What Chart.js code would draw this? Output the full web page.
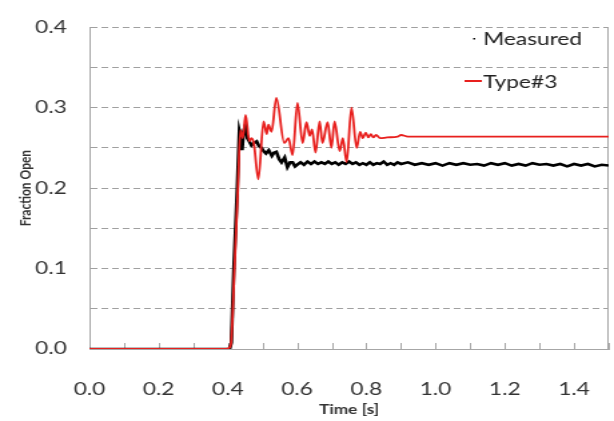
<!DOCTYPE html>
<html>
<head>
<meta charset="utf-8">
<script src="https://cdn.jsdelivr.net/npm/chart.js@4.4.1/dist/chart.umd.min.js"></script>
<style>
  html, body { margin: 0; padding: 0; background: #fff; }
</style>
</head>
<body>
<!-- the source picture is stretched sideways, so draw narrow and stretch -->
<canvas id="chart" width="460" height="421" style="display:block;width:614px;height:421px"></canvas>
<script>
// Measured valve opening
const measuredTime = [
  0, 0.405, 0.41, 0.417, 0.427, 0.433, 0.438, 0.441, 0.445, 0.45,
  0.456, 0.462, 0.468, 0.475, 0.483, 0.49, 0.497, 0.503, 0.51, 0.518,
  0.527, 0.533, 0.54, 0.548, 0.555, 0.564, 0.572, 0.58, 0.587, 0.594,
  0.60, 0.61, 0.62, 0.63, 0.64, 0.65, 0.66, 0.67, 0.68, 0.69,
  0.70, 0.71, 0.72, 0.73, 0.74, 0.75, 0.76, 0.77, 0.78, 0.79,
  0.80, 0.81, 0.82, 0.83, 0.84, 0.85, 0.86, 0.87, 0.88, 0.89,
  0.90, 0.92, 0.94, 0.96, 0.98, 1.00, 1.02, 1.04, 1.06, 1.08,
  1.10, 1.12, 1.14, 1.16, 1.18, 1.20, 1.22, 1.24, 1.26, 1.28,
  1.30, 1.32, 1.34, 1.36, 1.38, 1.40, 1.42, 1.44, 1.46, 1.48,
  1.50
];
const measuredValue = [
  0, 0, 0.008, 0.10, 0.20, 0.271, 0.262, 0.247, 0.270, 0.277,
  0.262, 0.258, 0.253, 0.256, 0.258, 0.252, 0.250, 0.246, 0.243, 0.247,
  0.240, 0.244, 0.245, 0.236, 0.232, 0.238, 0.226, 0.232, 0.232, 0.227,
  0.229, 0.232, 0.229, 0.233, 0.230, 0.233, 0.230, 0.232, 0.230, 0.233,
  0.230, 0.232, 0.229, 0.232, 0.230, 0.233, 0.230, 0.232, 0.229, 0.231,
  0.229, 0.232, 0.229, 0.231, 0.230, 0.233, 0.229, 0.231, 0.229, 0.232,
  0.230, 0.232, 0.229, 0.231, 0.229, 0.231, 0.228, 0.231, 0.229, 0.231,
  0.229, 0.230, 0.228, 0.231, 0.229, 0.231, 0.228, 0.230, 0.228, 0.231,
  0.229, 0.230, 0.228, 0.230, 0.227, 0.230, 0.228, 0.230, 0.227, 0.229,
  0.228
];

// Type#3 model
const typeTime = [
  0, 0.395, 0.405, 0.41, 0.419, 0.429, 0.436, 0.443, 0.451, 0.462,
  0.468, 0.475, 0.488, 0.503, 0.512, 0.517, 0.526, 0.54, 0.563, 0.575,
  0.587, 0.601, 0.616, 0.627, 0.636, 0.643, 0.653, 0.665, 0.673, 0.688,
  0.699, 0.708, 0.723, 0.732, 0.743, 0.757, 0.772, 0.782, 0.79, 0.798,
  0.806, 0.813, 0.82, 0.828, 0.84, 0.86, 0.89, 0.90, 0.92, 1.0,
  1.5
];
const typeValue = [
  0, 0, 0.002, 0.012, 0.10, 0.20, 0.272, 0.262, 0.291, 0.258,
  0.262, 0.255, 0.211, 0.283, 0.267, 0.279, 0.270, 0.312, 0.256, 0.262,
  0.241, 0.306, 0.256, 0.282, 0.265, 0.273, 0.244, 0.283, 0.256, 0.282,
  0.250, 0.283, 0.246, 0.262, 0.232, 0.300, 0.250, 0.270, 0.262, 0.269,
  0.263, 0.267, 0.263, 0.266, 0.262, 0.263, 0.264, 0.266, 0.264, 0.264,
  0.264
];

const seriesNames = ["Measured", "Type#3"];
const seriesColors = ["#000000", "#e8201e"];

function pairs(xs, ys) {
    return xs.map(function (x, i) { return { x: x, y: ys[i] }; });
}

Chart.defaults.font.family = "Lato";
Chart.defaults.color = "#333";

// small tick marks pointing up into the plot + right edge line
const frameMarks = {
    id: "frameMarks",
    beforeDatasetsDraw(chart) {
        const ctx = chart.ctx, a = chart.chartArea, xs = chart.scales.x;
        ctx.save();
        ctx.strokeStyle = "#a6a6a6";
        ctx.lineWidth = 1;
        ctx.beginPath();
        xs.ticks.forEach(function (t) {
            const px = Math.round(xs.getPixelForValue(t.value)) + 0.5;
            ctx.moveTo(px, a.bottom);
            ctx.lineTo(px, a.bottom - 6);
        });
        ctx.moveTo(a.right - 0.5, a.top);
        ctx.lineTo(a.right - 0.5, a.bottom);
        ctx.stroke();
        ctx.restore();
    }
};

// legend sits inside the plot, top right
const insideLegend = {
    id: "insideLegend",
    afterDraw(chart) {
        const ctx = chart.ctx, a = chart.chartArea;
        const tx = a.right - 94;
        ctx.save();
        ctx.font = "17px Lato";
        ctx.textBaseline = "alphabetic";
        ctx.fillStyle = "#222";
        ctx.fillText(seriesNames[0], tx, 45);
        ctx.fillText(seriesNames[1], tx, 88);
        ctx.fillStyle = seriesColors[0];
        ctx.fillRect(tx - 7.5, 38, 1.5, 1.5);
        ctx.strokeStyle = seriesColors[1];
        ctx.lineWidth = 2;
        ctx.beginPath();
        ctx.moveTo(tx - 14, 81);
        ctx.lineTo(tx - 1, 81);
        ctx.stroke();
        ctx.restore();
    }
};

new Chart(document.getElementById("chart"), {
    type: "line",
    data: {
        datasets: [
            {
                label: seriesNames[1],
                data: pairs(typeTime, typeValue),
                borderColor: seriesColors[1],
                borderWidth: 1.8,
                pointRadius: 0,
                cubicInterpolationMode: "monotone",
                order: 1
            },
            {
                label: seriesNames[0],
                data: pairs(measuredTime, measuredValue),
                borderColor: seriesColors[0],
                borderWidth: 2.6,
                pointRadius: 0,
                tension: 0,
                order: 2
            }
        ]
    },
    options: {
        responsive: false,
        animation: false,
        layout: { padding: { left: 0, right: 4, top: 15, bottom: 0 } },
        plugins: {
            legend: { display: false },
            tooltip: { enabled: false }
        },
        scales: {
            x: {
                type: "linear",
                min: 0,
                max: 1.5,
                grid: { display: false },
                border: { display: true, color: "#a6a6a6", width: 1 },
                ticks: {
                    stepSize: 0.1,
                    autoSkip: false,
                    maxRotation: 0,
                    padding: 22,
                    font: { size: 17 },
                    callback: function (v) {
                        return Math.round(v * 10) % 2 === 0 ? v.toFixed(1) : "";
                    }
                },
                title: {
                    display: true,
                    text: "Time [s]",
                    font: { size: 13, weight: "bold" },
                    color: "#333",
                    padding: { top: 3, bottom: 3 }
                },
                afterFit: function (s) {
                    s.height = 72;
                    s.paddingLeft = 0;
                    s.paddingRight = 0;
                }
            },
            y: {
                min: 0,
                max: 0.4,
                grid: {
                    drawTicks: false,
                    color: function (c) { return c.tick && c.tick.value === 0 ? "rgba(0,0,0,0)" : "#a0a0a0"; },
                    lineWidth: 1
                },
                border: { display: true, color: "#a6a6a6", width: 1, dash: [5, 3] },
                ticks: {
                    stepSize: 0.05,
                    padding: 17,
                    font: { size: 17 },
                    callback: function (v) {
                        return Math.abs(v * 10 - Math.round(v * 10)) < 1e-6 ? v.toFixed(1) : "";
                    }
                },
                title: {
                    display: true,
                    text: "Fraction Open",
                    font: { size: 12, weight: "bold" },
                    color: "#333",
                    padding: { top: 12, bottom: 12 }
                },
                afterFit: function (s) { s.width = 67; }
            }
        }
    },
    plugins: [frameMarks, insideLegend]
});
</script>
</body>
</html>
